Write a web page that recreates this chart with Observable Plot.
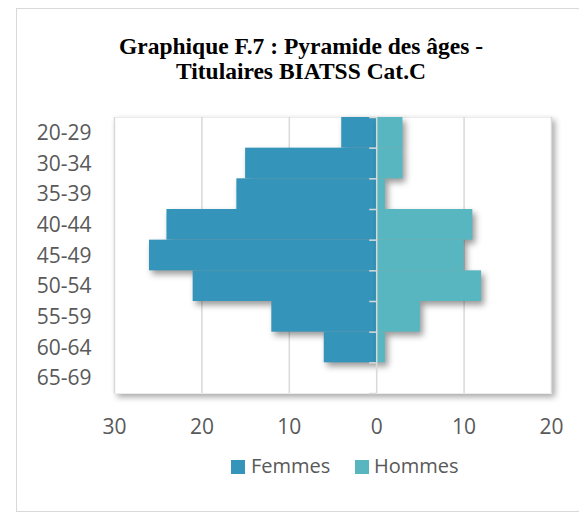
<!DOCTYPE html>
<html>
<head>
<meta charset="utf-8">
<script src="https://cdn.jsdelivr.net/npm/d3@7"></script>
<script src="https://cdn.jsdelivr.net/npm/@observablehq/plot@0.6"></script>
<style>
  html, body { margin: 0; padding: 0; background: #fff; }
  #wrap { position: relative; width: 579px; height: 515px; overflow: hidden; }
  #box { position: absolute; left: 16px; top: 8px; width: 620px; height: 504px; border: 1px solid #d9d9d9; box-sizing: border-box; }
  .tl { position: absolute; font-family: "Liberation Serif", "Times New Roman", serif; font-weight: bold; font-size: 23.5px; line-height: 25px; color: #000; white-space: nowrap; text-align: center; }
  #chart { position: absolute; left: 0; top: 0; }
  #chart [aria-label="frame"] { filter: drop-shadow(3px 3px 3px rgba(0,0,0,0.35)); }
  #chart g[aria-label="rect"] { filter: drop-shadow(3px 4px 3px rgba(0,0,0,0.4)); }
  .lg { position: absolute; font-family: "Open Sans", sans-serif; font-size: 20px; color: #595959; white-space: nowrap; }
  .sw { position: absolute; width: 14px; height: 14px; }
</style>
</head>
<body>
<div id="wrap">
  <div id="box"></div>
  <div class="tl" style="left:1px; width:600px; top:34px;">Graphique F.7 : Pyramide des âges -</div>
  <div class="tl" style="left:1px; width:600px; top:59px;">Titulaires BIATSS Cat.C</div>
  <div id="chart"></div>
  <div id="legend"></div>
</div>
<script>
const categories = ["20-29","30-34","35-39","40-44","45-49","50-54","55-59","60-64","65-69"];
const femmes = [4, 15, 16, 24, 26, 21, 12, 6, 0];
const hommes = [3, 3, 1, 11, 10, 12, 5, 1, 0];
const xTicks = [-30, -20, -10, 0, 10, 20];
const gridTicks = [-30, -20, -10, 10, 20];
const seriesNames = ["Femmes", "Hommes"];
const seriesColors = ["#3494BA", "#58B6C0"];

const rows = categories.map((c, i) => ({cat: c, i, femmes: femmes[i], hommes: hommes[i]}));
const boundaries = d3.range(0, categories.length + 1);

const chart = Plot.plot({
  width: 579,
  height: 445,
  marginTop: 117,
  marginBottom: 52,
  marginLeft: 114,
  marginRight: 28,
  style: {fontFamily: "Open Sans, sans-serif", fontSize: "21px", color: "#595959", background: "transparent", overflow: "visible"},
  x: {domain: [-30, 20]},
  y: {domain: [0, categories.length], reverse: true},
  marks: [
    Plot.frame({fill: "white", stroke: "#ececec"}),
    Plot.ruleX(gridTicks, {stroke: "#d9d9d9", strokeWidth: 1.5}),
    Plot.rectX(rows, {x1: 0, x2: d => -d.femmes, y1: d => d.i, y2: d => d.i + 1, fill: seriesColors[0]}),
    Plot.rectX(rows, {x1: 0, x2: d => d.hommes, y1: d => d.i, y2: d => d.i + 1, fill: seriesColors[1]}),
    Plot.ruleX([0], {stroke: "#d9d9d9", strokeWidth: 1.5}),
    Plot.ruleY(boundaries, {x1: 0, x2: 0, insetLeft: -7, stroke: "#d9d9d9", strokeWidth: 1.5}),
    Plot.axisX({ticks: xTicks, tickFormat: d => Math.abs(d), tickSize: 0, tickPadding: 24, anchor: "bottom"}),
    Plot.axisY({ticks: categories.map((c, i) => i + 0.5), tickFormat: d => categories[Math.floor(d)], tickSize: 0, tickPadding: 23, anchor: "left"})
  ]
});
// slight vertical stretch of tick labels, as in the reference rendering
chart.querySelectorAll('g[aria-label="x-axis tick label"] text, g[aria-label="y-axis tick label"] text').forEach(t => {
  const tr = t.getAttribute("transform") || "";
  t.setAttribute("transform", tr + " scale(1,1.08)");
});
document.getElementById("chart").appendChild(chart);

const legend = document.getElementById("legend");
const lx = [[231, 251], [355, 374]];
seriesNames.forEach((n, k) => {
  const sw = document.createElement("div");
  sw.className = "sw";
  sw.style.left = lx[k][0] + "px";
  sw.style.top = "460px";
  sw.style.background = seriesColors[k];
  legend.appendChild(sw);
  const t = document.createElement("div");
  t.className = "lg";
  t.style.left = lx[k][1] + "px";
  t.style.top = "452px";
  t.textContent = n;
  legend.appendChild(t);
});
</script>
</body>
</html>
